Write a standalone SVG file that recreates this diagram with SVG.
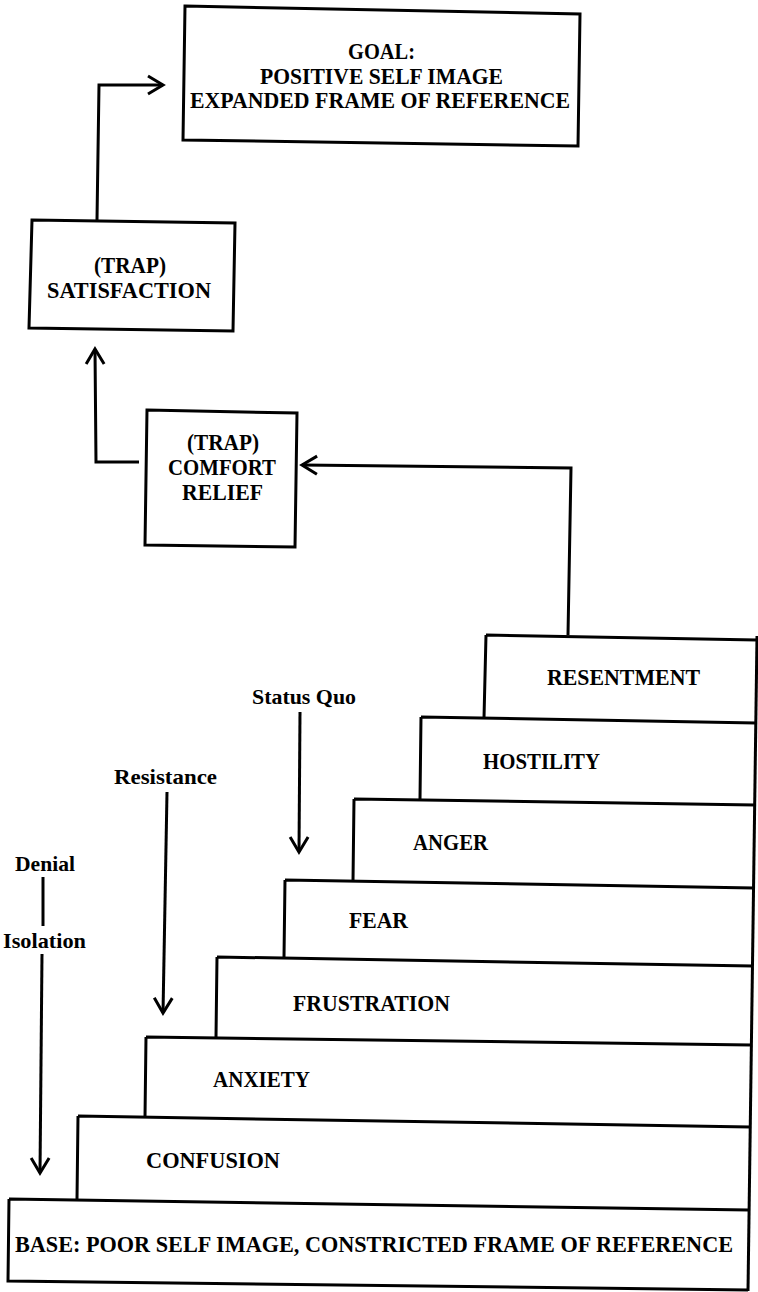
<svg xmlns="http://www.w3.org/2000/svg" width="758" height="1292" viewBox="0 0 758 1292">
<style>
.box{fill:none;stroke:#000;stroke-width:3;stroke-linejoin:miter;stroke-linecap:square}
.ln{fill:none;stroke:#000;stroke-width:3;stroke-linecap:butt}
.t{font-family:"Liberation Serif","Times New Roman",serif;font-weight:bold;font-size:24px;fill:#000}
.lab{font-family:"Liberation Serif","Times New Roman",serif;font-weight:bold;font-size:21px;fill:#000}
</style>
<defs>
<marker id="arr" markerUnits="userSpaceOnUse" markerWidth="22" markerHeight="24" viewBox="0 0 22 24" refX="18" refY="12" orient="auto">
<path d="M3,3 L18,12 L3,21" fill="none" stroke="#000" stroke-width="3" stroke-linejoin="miter"/>
</marker>
</defs>
<rect x="0" y="0" width="758" height="1292" fill="#fff"/>

<g id="goal">
<polygon class="box" points="185,6 580,14 578,146 183,140"/>
<text class="t" x="348" y="59" textLength="67" lengthAdjust="spacingAndGlyphs">GOAL:</text>
<text class="t" x="260" y="84" textLength="243" lengthAdjust="spacingAndGlyphs">POSITIVE SELF IMAGE</text>
<text class="t" x="190" y="108" textLength="380" lengthAdjust="spacingAndGlyphs">EXPANDED FRAME OF REFERENCE</text>
</g>

<g id="satisfaction">
<polygon class="box" points="32,220 235,223 233,331 29,328"/>
<text class="t" x="94" y="273" textLength="72" lengthAdjust="spacingAndGlyphs">(TRAP)</text>
<text class="t" x="47" y="298" textLength="164" lengthAdjust="spacingAndGlyphs">SATISFACTION</text>
</g>

<g id="comfort">
<polygon class="box" points="147,410 297,413 295,547 145,545"/>
<text class="t" x="187" y="450" textLength="72" lengthAdjust="spacingAndGlyphs">(TRAP)</text>
<text class="t" x="168" y="475" textLength="108" lengthAdjust="spacingAndGlyphs">COMFORT</text>
<text class="t" x="182" y="500" textLength="81" lengthAdjust="spacingAndGlyphs">RELIEF</text>
</g>

<g id="stairs-edge">
<line class="ln" x1="757" y1="636" x2="748" y2="1291"/>
</g>

<g id="resentment">
<path class="ln" d="M486,635 L757,640 M486,635 L484,718"/>
<text class="t" x="547" y="685" textLength="153" lengthAdjust="spacingAndGlyphs">RESENTMENT</text>
</g>
<g id="hostility">
<path class="ln" d="M421,717 L756,723 M421,717 L420,799"/>
<text class="t" x="483" y="769" textLength="117" lengthAdjust="spacingAndGlyphs">HOSTILITY</text>
</g>
<g id="anger">
<path class="ln" d="M354,799 L755,805 M354,799 L353,881"/>
<text class="t" x="413" y="850" textLength="75" lengthAdjust="spacingAndGlyphs">ANGER</text>
</g>
<g id="fear">
<path class="ln" d="M285,880 L754,888 M285,880 L284,957"/>
<text class="t" x="349" y="928" textLength="59" lengthAdjust="spacingAndGlyphs">FEAR</text>
</g>
<g id="frustration">
<path class="ln" d="M217,957 L753,966 M217,957 L216,1037"/>
<text class="t" x="293" y="1011" textLength="157" lengthAdjust="spacingAndGlyphs">FRUSTRATION</text>
</g>
<g id="anxiety">
<path class="ln" d="M146,1037 L751,1045 M146,1037 L145,1117"/>
<text class="t" x="213" y="1087" textLength="97" lengthAdjust="spacingAndGlyphs">ANXIETY</text>
</g>
<g id="confusion">
<path class="ln" d="M78,1116 L750,1127 M78,1116 L77,1199"/>
<text class="t" x="146" y="1168" textLength="134" lengthAdjust="spacingAndGlyphs">CONFUSION</text>
</g>
<g id="base">
<path class="ln" d="M9,1199 L749,1210 M9,1199 L8,1281 L748,1290"/>
<text class="t" x="15" y="1252" font-size="21" textLength="718" lengthAdjust="spacingAndGlyphs">BASE: POOR SELF IMAGE, CONSTRICTED FRAME OF REFERENCE</text>
</g>

<g id="labels">
<text class="lab" x="252" y="704" textLength="104" lengthAdjust="spacingAndGlyphs">Status Quo</text>
<text class="lab" x="114" y="784" textLength="103" lengthAdjust="spacingAndGlyphs">Resistance</text>
<text class="lab" x="15" y="871" textLength="60" lengthAdjust="spacingAndGlyphs">Denial</text>
<text class="lab" x="3" y="948" textLength="83" lengthAdjust="spacingAndGlyphs">Isolation</text>
</g>

<g id="connectors">
<path class="ln" d="M97,220 L99,85 L163,85" marker-end="url(#arr)"/>
<path class="ln" d="M139,462 L96,462 L95,349" marker-end="url(#arr)"/>
<path class="ln" d="M568,635 L571,468 L302,465" marker-end="url(#arr)"/>
<path class="ln" d="M300,712 L299,852" marker-end="url(#arr)"/>
<path class="ln" d="M167,792 L163,1013" marker-end="url(#arr)"/>
<path class="ln" d="M43,877 L43,926"/>
<path class="ln" d="M42,954 L40,1173" marker-end="url(#arr)"/>
</g>
</svg>
